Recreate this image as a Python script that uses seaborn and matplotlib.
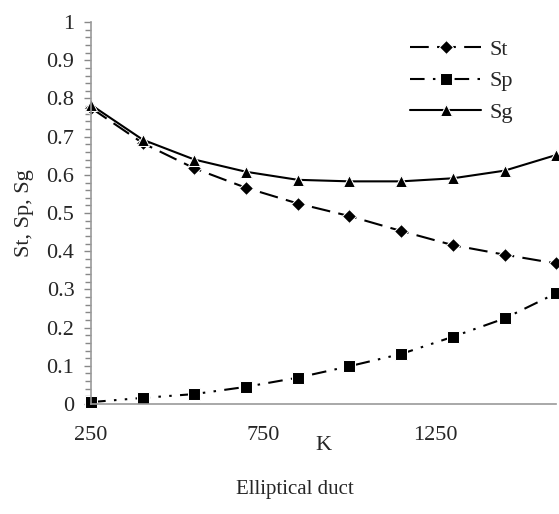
import matplotlib
matplotlib.use("Agg")
import matplotlib.pyplot as plt
from matplotlib.ticker import MultipleLocator
import seaborn as sns
import pandas as pd

K = [250, 400, 550, 700, 850, 1000, 1150, 1300, 1450, 1600]
St = [0.775, 0.683, 0.617, 0.566, 0.525, 0.492, 0.453, 0.416, 0.391, 0.368]
Sp = [0.005, 0.016, 0.026, 0.045, 0.069, 0.099, 0.131, 0.176, 0.224, 0.290]
Sg = [0.783, 0.692, 0.640, 0.608, 0.587, 0.583, 0.583, 0.591, 0.611, 0.652]
xticks = [250, 750, 1250]
yticks = [0, 0.1, 0.2, 0.3, 0.4, 0.5, 0.6, 0.7, 0.8, 0.9, 1]

sns.set_theme(style="white")
plt.rcParams['font.family'] = ['Liberation Serif', 'DejaVu Serif']

fig = plt.figure(figsize=(5.59, 5.14), dpi=100)
ax = fig.add_axes([0.163, 0.214, 0.832, 0.743])

df = pd.DataFrame({"K": K, "St": St, "Sp": Sp, "Sg": Sg})

sns.lineplot(data=df, x="K", y="St", ax=ax, color="black", lw=1.5,
             marker="D", markersize=7, label="St", clip_on=False)
ax.lines[-1].set_dashes((9, 4))
sns.lineplot(data=df, x="K", y="Sp", ax=ax, color="black", lw=1.5,
             marker="s", markersize=9, label="Sp", clip_on=False)
ax.lines[-1].set_dashes((7, 4, 1.2, 4, 1.2, 4))
sns.lineplot(data=df, x="K", y="Sg", ax=ax, color="black", lw=1.5,
             marker="^", markersize=9, label="Sg", clip_on=False)

ax.set_xlim(250, 1600)
ax.set_ylim(0, 1)
ax.set_xticks(xticks)
ax.set_yticks(yticks)
ax.set_yticklabels([f"{v:g}" for v in yticks])
ax.yaxis.set_minor_locator(MultipleLocator(0.02))
ax.tick_params(axis="y", which="major", direction="out", length=5, width=1,
               color="#888888", left=True, labelsize=16, pad=7)
ax.tick_params(axis="y", which="minor", direction="out", length=4, width=1,
               color="#888888", left=True)
ax.tick_params(axis="x", which="both", bottom=False, labelsize=16, pad=10)

for s in ["top", "right"]:
    ax.spines[s].set_visible(False)
for s in ["left", "bottom"]:
    ax.spines[s].set_color("#999999")
    ax.spines[s].set_linewidth(1.2)

ax.set_xlabel("K", fontsize=16)
ax.xaxis.set_label_coords(0.499, -0.085)
ax.set_ylabel("St, Sp, Sg", fontsize=16)
ax.yaxis.set_label_coords(-0.122, 0.5)

leg = ax.legend(loc="upper right", bbox_to_anchor=(0.935, 0.99), frameon=False,
                fontsize=16, handlelength=3.2, handletextpad=0.35,
                labelspacing=0.5, borderaxespad=0.2)

fig.text(0.528, 0.047, "Elliptical duct", ha="center", va="center", fontsize=15)

fig.savefig("out.png", dpi=100)
